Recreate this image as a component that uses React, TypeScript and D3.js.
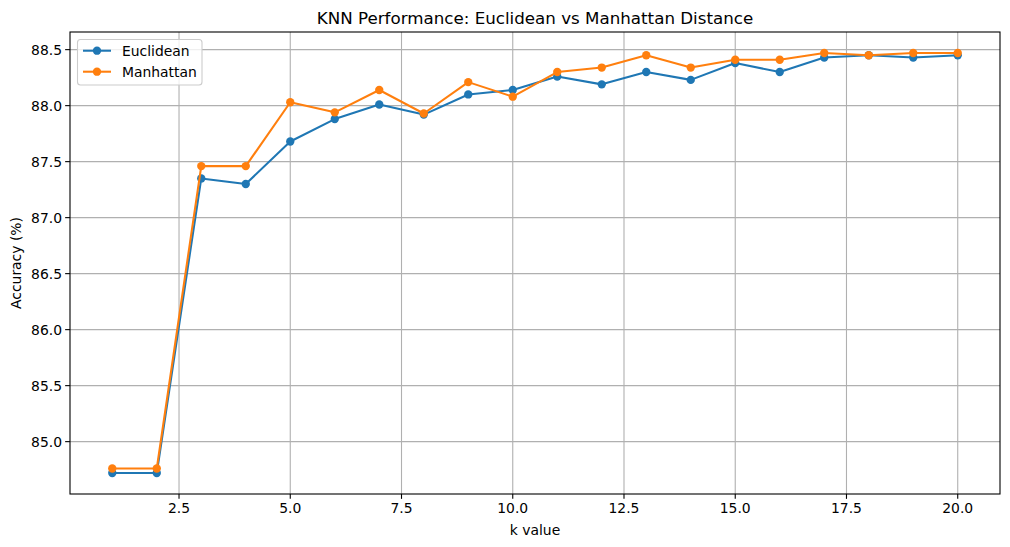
import React from "react";
import * as d3 from "d3";

const kValues = [1, 2, 3, 4, 5, 6, 7, 8, 9, 10, 11, 12, 13, 14, 15, 16, 17, 18, 19, 20];
const euclidean = [84.72, 84.72, 87.35, 87.30, 87.68, 87.88, 88.01, 87.92, 88.10, 88.14, 88.26, 88.19, 88.30, 88.23, 88.38, 88.30, 88.43, 88.45, 88.43, 88.45];
const manhattan = [84.76, 84.76, 87.46, 87.46, 88.03, 87.94, 88.14, 87.93, 88.21, 88.08, 88.30, 88.34, 88.45, 88.34, 88.41, 88.41, 88.47, 88.45, 88.47, 88.47];
const xTicks = [2.5, 5.0, 7.5, 10.0, 12.5, 15.0, 17.5, 20.0];
const yTicks = [85.0, 85.5, 86.0, 86.5, 87.0, 87.5, 88.0, 88.5];
const seriesNames = ["Euclidean", "Manhattan"];
const seriesColors = ["#1f77b4", "#ff7f0e"];

const W = 1010, H = 547;
const L = 70, R = 1000, T = 32, B = 494;
const FONT = "DejaVu Sans, sans-serif";

export default function App() {
  const all = [...euclidean, ...manhattan];
  const yMin = d3.min(all)!, yMax = d3.max(all)!;
  const yPad = (yMax - yMin) * 0.05;
  const xPad = (20 - 1) * 0.05;
  const x = d3.scaleLinear().domain([1 - xPad, 20 + xPad]).range([L, R]);
  const y = d3.scaleLinear().domain([yMin - yPad, yMax + yPad]).range([B, T]);
  const series = [euclidean, manhattan];
  const line = d3.line<number>().x((_, i) => x(kValues[i])).y((d) => y(d));

  return (
    <svg width={W} height={H} style={{ position: "absolute", left: 0, top: 0, background: "#fff" }} fontFamily={FONT}>
      <rect x={0} y={0} width={W} height={H} fill="#fff" />
      {/* grid */}
      {xTicks.map((t) => (
        <line key={"gx" + t} x1={x(t)} x2={x(t)} y1={T} y2={B} stroke="#b0b0b0" strokeWidth={1.1} />
      ))}
      {yTicks.map((t) => (
        <line key={"gy" + t} x1={L} x2={R} y1={y(t)} y2={y(t)} stroke="#b0b0b0" strokeWidth={1.1} />
      ))}
      {/* series */}
      {series.map((s, si) => (
        <g key={si}>
          <path d={line(s)!} fill="none" stroke={seriesColors[si]} strokeWidth={2.08} strokeLinejoin="round" strokeLinecap="square" />
          {s.map((v, i) => (
            <circle key={i} cx={x(kValues[i])} cy={y(v)} r={4.17} fill={seriesColors[si]} />
          ))}
        </g>
      ))}
      {/* spines */}
      <rect x={L} y={T} width={R - L} height={B - T} fill="none" stroke="#000" strokeWidth={1.1} />
      {/* x ticks */}
      {xTicks.map((t) => (
        <g key={"tx" + t}>
          <line x1={x(t)} x2={x(t)} y1={B} y2={B + 4.86} stroke="#000" strokeWidth={1.1} />
          <text x={x(t)} y={B + 19} textAnchor="middle" fontSize={13.9} fill="#000">{t.toFixed(1)}</text>
        </g>
      ))}
      {/* y ticks */}
      {yTicks.map((t) => (
        <g key={"ty" + t}>
          <line x1={L - 4.86} x2={L} y1={y(t)} y2={y(t)} stroke="#000" strokeWidth={1.1} />
          <text x={L - 8} y={y(t)} dy="0.35em" textAnchor="end" fontSize={13.9} fill="#000">{t.toFixed(1)}</text>
        </g>
      ))}
      {/* labels */}
      <text x={(L + R) / 2} y={535} textAnchor="middle" fontSize={13.9}>k value</text>
      <text transform={`translate(21,${(T + B) / 2}) rotate(-90)`} textAnchor="middle" fontSize={13.9}>Accuracy (%)</text>
      <text x={(L + R) / 2} y={24} textAnchor="middle" fontSize={16.7}>KNN Performance: Euclidean vs Manhattan Distance</text>
      {/* legend */}
      <g>
        <rect x={77.5} y={39.5} width={124.5} height={45.5} rx={3} fill="#fff" fillOpacity={0.8} stroke="#cccccc" strokeWidth={1.1} />
        {seriesNames.map((n, i) => {
          const ly = 50.7 + i * 21;
          return (
            <g key={n}>
              <line x1={83} x2={111} y1={ly} y2={ly} stroke={seriesColors[i]} strokeWidth={2.08} />
              <circle cx={97} cy={ly} r={4.17} fill={seriesColors[i]} />
              <text x={122} y={ly} dy="0.35em" fontSize={13.9}>{n}</text>
            </g>
          );
        })}
      </g>
    </svg>
  );
}
